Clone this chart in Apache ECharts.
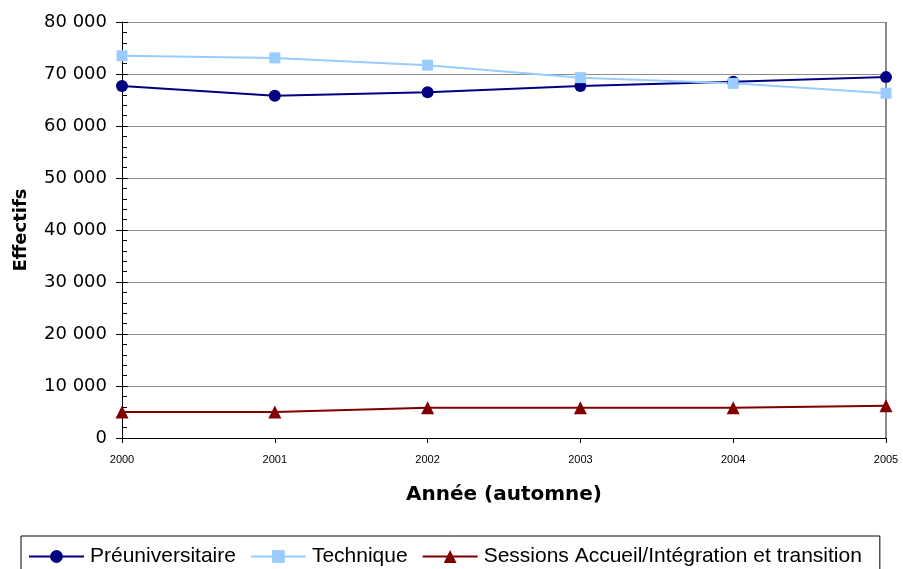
<!DOCTYPE html>
<html>
<head>
<meta charset="utf-8">
<script src="https://cdn.jsdelivr.net/npm/echarts@6/dist/echarts.min.js"></script>
<style>
  html, body { margin: 0; padding: 0; background: #fff; }
  #chart { width: 903px; height: 569px; }
</style>
</head>
<body>
<div id="chart"></div>
<script>
  // données
  var annees = ['2000', '2001', '2002', '2003', '2004', '2005'];
  var preuniversitaire = [67700, 65800, 66500, 67700, 68500, 69400];
  var technique = [73500, 73100, 71700, 69300, 68200, 66300];
  var sessionsAccueil = [5000, 5000, 5800, 5800, 5800, 6200];

  var fmt = function (v) {
    return String(v).replace(/\B(?=(\d{3})+(?!\d))/g, ' ');
  };

  var myChart = echarts.init(document.getElementById('chart'));
  myChart.setOption({
    animation: false,
    grid: { left: 122, right: 17, top: 22, bottom: 131, containLabel: false, outerBoundsMode: 'none' },
    xAxis: {
      type: 'category',
      data: annees,
      boundaryGap: false,
      name: 'Année (automne)',
      nameLocation: 'middle',
      nameGap: 47,
      nameTextStyle: { fontFamily: 'DejaVu Sans', fontWeight: 'bold', fontSize: 20, color: '#000' },
      axisLine: { lineStyle: { color: '#000', width: 1 } },
      axisTick: { alignWithLabel: true, length: 5, lineStyle: { color: '#000' } },
      axisLabel: { fontFamily: 'Liberation Sans', fontSize: 11, color: '#000', margin: 16 },
      splitLine: { show: false }
    },
    yAxis: [
      {
        type: 'value',
        min: 0,
        max: 80000,
        interval: 10000,
        name: 'Effectifs',
        nameLocation: 'middle',
        nameGap: 92,
        nameTextStyle: { fontFamily: 'DejaVu Sans', fontWeight: 'bold', fontSize: 18, color: '#000' },
        axisLine: { show: true, lineStyle: { color: '#000', width: 1 } },
        axisTick: { show: true, inside: true, length: 6, lineStyle: { color: '#000' } },
        minorTick: { show: true, splitNumber: 5, length: 5, lineStyle: { color: '#000' } },
        axisLabel: { fontFamily: 'DejaVu Sans', fontSize: 18, color: '#000', margin: 15, formatter: fmt },
        splitLine: { show: true, lineStyle: { color: '#8c8c8c', width: 1 } }
      },
      {
        // ticks extérieurs (les graduations principales traversent l'axe)
        type: 'value',
        position: 'left',
        min: 0,
        max: 80000,
        interval: 10000,
        axisLine: { show: false },
        axisTick: { show: true, inside: false, length: 6, lineStyle: { color: '#000' } },
        axisLabel: { show: false },
        splitLine: { show: false }
      }
    ],
    graphic: [
      {
        type: 'line',
        shape: { x1: 886, y1: 22, x2: 886, y2: 438 },
        style: { stroke: '#8c8c8c', lineWidth: 2 }
      }
    ],
    legend: {
      left: 21,
      top: 536,
      padding: [10, 18, 10, 7],
      itemGap: 14,
      itemWidth: 55,
      itemHeight: 16,
      borderColor: '#000',
      borderWidth: 1,
      backgroundColor: '#fff',
      textStyle: { fontFamily: 'Liberation Sans', fontSize: 21, color: '#000', padding: [0, 0, 0, 1] },
      data: ['Préuniversitaire', 'Technique', 'Sessions Accueil/Intégration et transition']
    },
    series: [
      {
        name: 'Préuniversitaire',
        type: 'line',
        data: preuniversitaire,
        symbol: 'circle',
        symbolSize: 12,
        color: '#000080',
        lineStyle: { width: 2, color: '#000080' },
        clip: false
      },
      {
        name: 'Technique',
        type: 'line',
        data: technique,
        symbol: 'rect',
        symbolSize: 11,
        color: '#99ccff',
        lineStyle: { width: 2, color: '#99ccff' },
        clip: false
      },
      {
        name: 'Sessions Accueil/Intégration et transition',
        type: 'line',
        data: sessionsAccueil,
        symbol: 'triangle',
        symbolSize: 13,
        color: '#800000',
        lineStyle: { width: 2, color: '#800000' },
        clip: false
      }
    ]
  });
</script>
</body>
</html>
